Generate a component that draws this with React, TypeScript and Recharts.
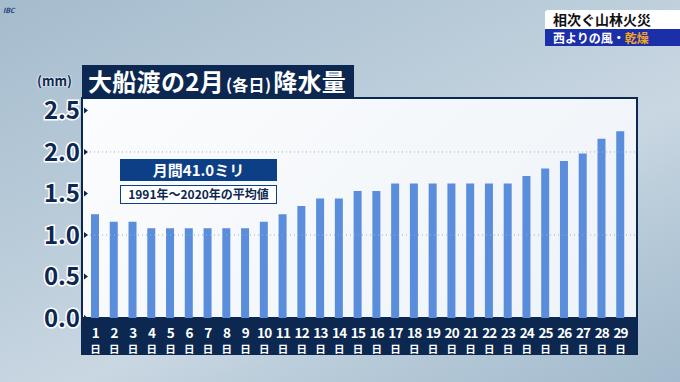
import React from 'react'
import { BarChart, Bar, XAxis, YAxis, CartesianGrid, ReferenceLine } from 'recharts'

// 大船渡 2月 日別平年値 (mm)
const days = [
  1, 2, 3, 4, 5, 6, 7, 8, 9, 10, 11, 12, 13, 14, 15, 16, 17, 18, 19, 20, 21, 22, 23, 24, 25, 26, 27,
  28, 29
]
const rain = [
  1.25, 1.16, 1.16, 1.08, 1.08, 1.08, 1.08, 1.08, 1.08, 1.16, 1.25, 1.35, 1.44, 1.44, 1.53, 1.53,
  1.62, 1.62, 1.62, 1.62, 1.62, 1.62, 1.62, 1.71, 1.8, 1.89, 1.98, 2.16, 2.25
]
const yTicks = [0, 0.5, 1, 1.5, 2, 2.5]
const guideLines = [1, 2]

const title = '大船渡の2月'
const titleSub = '(各日)'
const titleEnd = '降水量'
const monthly = '月間41.0ミリ'
const period = '1991年～2020年の平均値'

const data = days.map((d, i) => ({ day: d, value: rain[i] }))

const NAVY = '#0c2850'
const FONT = '"Noto Sans CJK JP", "Noto Sans", sans-serif'

function YTick(props: any) {
  const { x, y, payload } = props
  return (
    <g>
      <path d={`M ${x + 10} ${y - 3} L ${x + 14} ${y} L ${x + 10} ${y + 3} Z`} fill={NAVY} />
      <text
        x={x + 6}
        y={y}
        dy={9}
        textAnchor="end"
        fontSize={24}
        fontWeight={700}
        fontFamily={FONT}
        fill={NAVY}
        stroke="#ffffff"
        strokeWidth={3}
        paintOrder="stroke"
      >
        {payload.value.toFixed(1)}
      </text>
    </g>
  )
}

function XTick(props: any) {
  const { x, y, payload } = props
  return (
    <g>
      <text
        x={x}
        y={y + 12}
        textAnchor="middle"
        fontSize={13.5}
        fontWeight={700}
        fontFamily={FONT}
        fill="#ffffff"
        letterSpacing={-0.8}
      >
        {payload.value}
      </text>
      <text
        x={x}
        y={y + 27}
        textAnchor="middle"
        fontSize={10.5}
        fontWeight={700}
        fontFamily={FONT}
        fill="#ffffff"
      >
        日
      </text>
    </g>
  )
}

export default function App() {
  return (
    <div
      style={{
        position: 'relative',
        width: 680,
        height: 382,
        overflow: 'hidden',
        fontFamily: FONT,
        background:
          'linear-gradient(155deg, #a5bccd 0%, #b9cbd9 35%, #c9d7e2 60%, #b3c7d6 80%, #a3bbcd 100%)'
      }}
    >
      <style>{'body { margin: 0; }'}</style>
      {/* plot frame and axis band */}
      <div
        style={{
          position: 'absolute',
          left: 81,
          top: 97,
          width: 557,
          height: 222,
          boxSizing: 'border-box',
          border: `2px solid ${NAVY}`,
          background: 'linear-gradient(135deg, #fbfcfd 0%, #eef3f8 100%)'
        }}
      />
      <div style={{ position: 'absolute', left: 81, top: 318, width: 557, height: 37, background: NAVY }} />

      <BarChart
        width={680}
        height={382}
        data={data}
        margin={{ top: 98, right: 42, bottom: 27, left: 12 }}
        style={{ position: 'absolute', left: 0, top: 0 }}
      >
        <CartesianGrid horizontal={false} vertical={false} />
        {guideLines.map((v) => (
          <ReferenceLine key={v} y={v} stroke="#9aaccc" strokeDasharray="1 3" strokeWidth={1} />
        ))}
        <XAxis
          dataKey="day"
          height={37}
          axisLine={false}
          tickLine={false}
          interval={0}
          padding={{ left: 4, right: 8 }}
          tick={<XTick />}
        />
        <YAxis
          width={70}
          domain={[0, 2.65]}
          ticks={yTicks}
          axisLine={{ stroke: NAVY, strokeWidth: 2 }}
          tickLine={false}
          tick={<YTick />}
        />
        <Bar dataKey="value" fill="#5a8ddb" barSize={8} isAnimationActive={false} />
      </BarChart>

      {/* title */}
      <div
        style={{
          position: 'absolute',
          left: 82,
          top: 65,
          width: 272,
          height: 32,
          background: NAVY,
          color: '#fff',
          fontWeight: 700,
          fontSize: 24,
          lineHeight: '32px',
          paddingLeft: 6,
          boxSizing: 'border-box',
          whiteSpace: 'nowrap',
          letterSpacing: 0.3
        }}
      >
        {title}
        <span style={{ fontSize: 16, margin: '0 2px' }}>{titleSub}</span>
        {titleEnd}
      </div>
      <div
        style={{
          position: 'absolute',
          left: 37,
          top: 74,
          fontSize: 13,
          lineHeight: '13px',
          fontWeight: 700,
          color: NAVY,
          textShadow: '0 0 2px #fff, 0 0 2px #fff'
        }}
      >
        (mm)
      </div>

      {/* annotation */}
      <div
        style={{
          position: 'absolute',
          left: 120,
          top: 159,
          width: 157,
          height: 22,
          background: '#0d3f86',
          color: '#fff',
          fontWeight: 700,
          fontSize: 15,
          lineHeight: '22px',
          textAlign: 'center'
        }}
      >
        {monthly}
      </div>
      <div
        style={{
          position: 'absolute',
          left: 120,
          top: 185,
          width: 157,
          height: 19,
          boxSizing: 'border-box',
          border: '1.5px solid #0d3f86',
          background: '#fff',
          color: NAVY,
          fontWeight: 700,
          fontSize: 12,
          lineHeight: '16px',
          textAlign: 'center',
          whiteSpace: 'nowrap'
        }}
      >
        {period}
      </div>

      {/* top right caption */}
      <div
        style={{
          position: 'absolute',
          left: 545,
          top: 10,
          width: 135,
          height: 19,
          background: '#fff',
          color: '#111',
          fontWeight: 700,
          fontSize: 14,
          lineHeight: '19px',
          paddingLeft: 8,
          boxSizing: 'border-box',
          borderRadius: '3px 0 0 0'
        }}
      >
        相次ぐ山林火災
      </div>
      <div
        style={{
          position: 'absolute',
          left: 545,
          top: 29,
          width: 135,
          height: 17,
          background: '#1b2fa8',
          color: '#fff',
          fontWeight: 700,
          fontSize: 12,
          lineHeight: '17px',
          paddingLeft: 8,
          boxSizing: 'border-box'
        }}
      >
        西よりの風・<span style={{ color: '#f6a623' }}>乾燥</span>
      </div>

      {/* logo */}
      <div
        style={{
          position: 'absolute',
          left: 3,
          top: 5,
          fontSize: 7,
          fontWeight: 700,
          color: '#1c3f7a',
          fontStyle: 'italic'
        }}
      >
        IBC
      </div>
    </div>
  )
}
